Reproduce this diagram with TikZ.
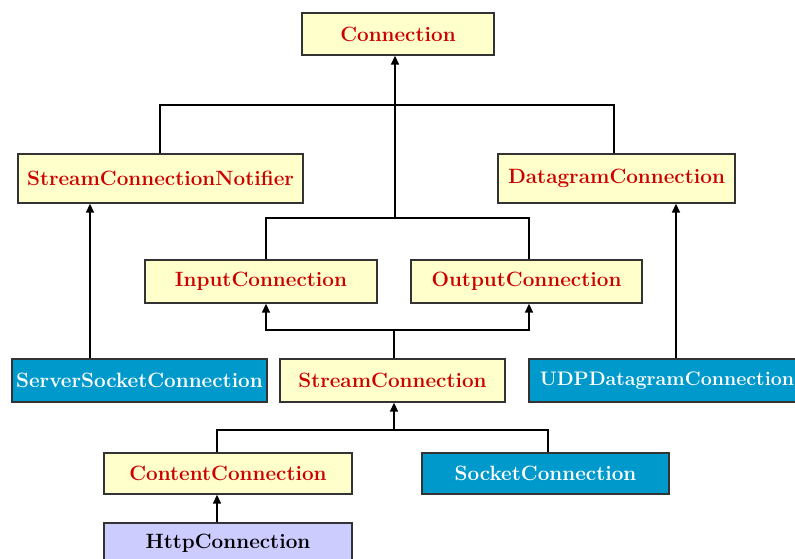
\documentclass[tikz,border=0pt]{standalone}
\usetikzlibrary{arrows.meta}
\definecolor{ifacefill}{HTML}{FFFFCC}
\definecolor{ifacetext}{HTML}{CC0000}
\definecolor{implfill}{HTML}{0099CC}
\definecolor{httpfill}{HTML}{CCCCFF}
\tikzset{
  cls/.style={draw=black!80, line width=1.3pt, fill=ifacefill, text=ifacetext,
    font=\fontsize{20.7}{24}\selectfont\bfseries, inner sep=0pt, minimum height=43pt},
  impl/.style={cls, fill=implfill, text=white},
  httpbox/.style={cls, fill=httpfill, text=black},
  link/.style={line width=1.5pt, black},
  inh/.style={link, -{Triangle[length=9pt,width=8pt]}}
}

\begin{document}
\begin{tikzpicture}[x=1pt,y=-1pt]
		%%%%% START %%%%%
		\useasboundingbox (0,0) rectangle (795,558);
		\clip (0,0) rectangle (795,558);
		
		\node[cls, minimum width=192pt, minimum height=42pt] (conn) at (398,34) {Connection};
		
		\node[cls, minimum width=285pt, minimum height=49pt] (notifier) at (160.5,178.5) {StreamConnectionNotifier};
		\node[cls, minimum width=237pt, minimum height=49pt] (dgram) at (616.5,178.5) {DatagramConnection};
		
		\node[cls, minimum width=232pt] (input) at (261,281.5) {InputConnection};
		\node[cls, minimum width=231pt] (output) at (526.5,281.5) {OutputConnection};
		
		\node[impl, minimum width=255pt] (server) at (139.5,380.5) {ServerSocketConnection};
		\node[cls, minimum width=225pt] (stream) at (392.5,380.5) {StreamConnection};
		\node[impl, minimum width=276pt, font=\fontsize{19.6}{24}\selectfont\bfseries] (udp) at (667,380.5) {UDPDatagramConnection};
		
		\node[cls, minimum width=248pt, minimum height=41pt] (content) at (228,473.5) {ContentConnection};
		\node[impl, minimum width=247pt, minimum height=41pt] (socket) at (545.5,473.5) {SocketConnection};
		
		\node[httpbox, minimum width=248pt, minimum height=41pt] (http) at (228,543.5) {HttpConnection};
		
		% junctions
		\coordinate (jl) at (160,105);
		\coordinate (jr) at (614,105);
		\coordinate (jio) at (395,218);
		\coordinate (ioL) at (266,218);
		\coordinate (ioR) at (529,218);
		\coordinate (sM) at (394,330);
		\coordinate (sL) at (266,330);
		\coordinate (sR) at (529,330);
		\coordinate (cM) at (394,430);
		\coordinate (cL) at (217,430);
		\coordinate (cR) at (548,430);
		\coordinate (srv) at (90,300);
		\coordinate (dg) at (676,300);
		
		\draw[inh] (jio) -- (conn.south -| jio);
		\draw[link] (notifier.north -| jl) -- (jl) -- (jr) -- (dgram.north -| jr);
		\draw[link] (input.north -| ioL) -- (ioL) -- (ioR) -- (output.north -| ioR);
		
		\draw[inh] (server.north -| srv) -- (notifier.south -| srv);
		\draw[inh] (udp.north -| dg) -- (dgram.south -| dg);
		
		\draw[link] (stream.north -| sM) -- (sM);
		\draw[inh] (sM) -| (input.south -| sL);
		\draw[inh] (sM) -| (output.south -| sR);
		
		\draw[inh] (cM) -- (stream.south -| cM);
		\draw[link] (content.north -| cL) -- (cL) -- (cR) -- (socket.north -| cR);
		
		\draw[inh] (http.north -| cL) -- (content.south -| cL);
		
		%%%%% END %%%%%
\end{tikzpicture}
\end{document}
